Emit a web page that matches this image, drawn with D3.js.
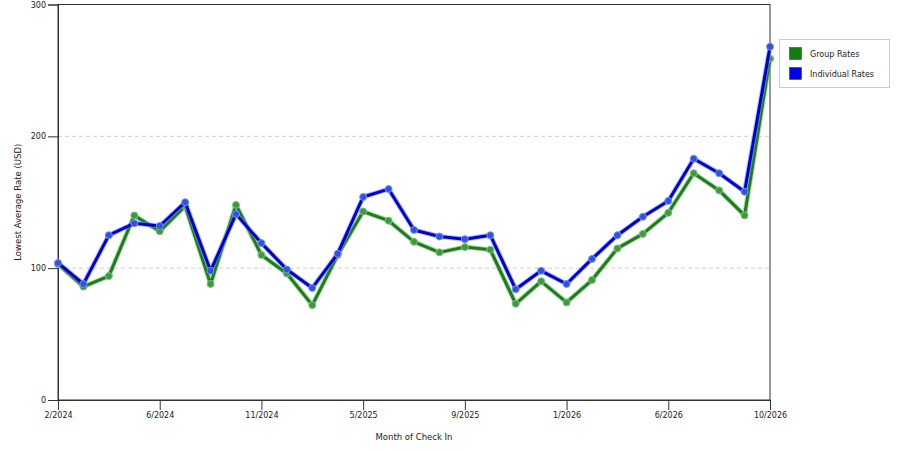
<!DOCTYPE html>
<meta charset="utf-8">
<title>Lowest Average Rate</title>
<body style="margin:0;background:#fff">
<svg width=900 height=450></svg>
<script src="https://d3js.org/d3.v7.min.js"></script>
<script>
    // months shown on the chart (one point each)
    const months = ["2/2024","3/2024","4/2024","5/2024","6/2024","7/2024","8/2024","9/2024",
        "11/2024","12/2024","1/2025","3/2025","5/2025","6/2025","7/2025","8/2025",
        "9/2025","10/2025","11/2025","12/2025","1/2026","2/2026","3/2026","4/2026",
        "6/2026","7/2026","8/2026","9/2026","10/2026"];
    const tickLabels = ["2/2024","6/2024","11/2024","5/2025","9/2025","1/2026","6/2026","10/2026"];

    const groupRates = [103,86,94,140,128,147,88,148,110,96,72,110,143,136,120,112,116,114,73,90,74,91,115,126,142,172,159,140,259];
    const individualRates = [104,88,125,134,132,150,98,141,119,99,85,111,154,160,129,124,122,125,84,98,88,107,125,139,151,183,172,158,268];

    const yTicks = [0,100,200,300];

    const series = [
        {name: "Group Rates", values: groupRates, color: "#1a7f1a", halo: "#7fc07f", dot: "#3f9a3f"},
        {name: "Individual Rates", values: individualRates, color: "#0000cc", halo: "#7f8fef", dot: "#2a55e0"}
    ];

    const svg = d3.select('svg');
    const font = "DejaVu Sans, Verdana, sans-serif";
    const m = {left: 58, right: 130, top: 4.5, bottom: 50};
    const W = 900, H = 450;

    const x = d3.scalePoint().domain(months).range([m.left, W - m.right]);
    const y = d3.scaleLinear().domain([0, 300]).range([H - m.bottom, m.top]);

    // grid
    svg.append("g").selectAll("line")
        .data([100, 200])
        .enter().append("line")
        .attr("x1", m.left).attr("x2", W - m.right)
        .attr("y1", d => y(d)).attr("y2", d => y(d))
        .attr("stroke", "#d0d0d0")
        .attr("stroke-dasharray", "4,3");

    // frame
    svg.append("rect")
        .attr("x", m.left).attr("y", m.top)
        .attr("width", W - m.right - m.left).attr("height", y(0) - m.top)
        .attr("fill", "none").attr("stroke", "#333");

    const xAxis = svg.append("g")
        .attr("transform", `translate(0,${y(0)})`)
        .call(d3.axisBottom(x).tickValues(tickLabels).tickSize(10).tickPadding(2));
    const yAxis = svg.append("g")
        .attr("transform", `translate(${m.left},0)`)
        .call(d3.axisLeft(y).tickValues(yTicks).tickSize(10).tickPadding(2));

    [xAxis, yAxis].forEach(a => {
        a.select(".domain").attr("stroke", "#333");
        a.selectAll(".tick line").attr("stroke", "#333");
        a.selectAll("text").attr("font-family", font).attr("font-size", 8).attr("fill", "#222");
    });

    svg.append("text")
        .attr("x", (m.left + W - m.right) / 2).attr("y", 440)
        .attr("text-anchor", "middle")
        .attr("font-family", font).attr("font-size", 8.5).attr("fill", "#222")
        .text("Month of Check In");

    svg.append("text")
        .attr("transform", `translate(21,${(y(0) + m.top) / 2}) rotate(-90)`)
        .attr("text-anchor", "middle")
        .attr("font-family", font).attr("font-size", 8.5).attr("fill", "#222")
        .text("Lowest Average Rate (USD)");

    const line = d3.line().x((d, i) => x(months[i])).y(d => y(d));

    series.forEach(s => {
        const g = svg.append("g");
        g.append("path").datum(s.values)
            .attr("d", line).attr("fill", "none")
            .attr("stroke", s.halo).attr("stroke-width", 5).attr("opacity", 0.6)
            .attr("stroke-linejoin", "round");
        g.append("path").datum(s.values)
            .attr("d", line).attr("fill", "none")
            .attr("stroke", s.color).attr("stroke-width", 3)
            .attr("stroke-linejoin", "round");
        g.selectAll("circle").data(s.values).enter().append("circle")
            .attr("cx", (d, i) => x(months[i])).attr("cy", d => y(d))
            .attr("r", 3.5)
            .attr("fill", s.dot).attr("stroke", s.halo).attr("stroke-width", 1);
    });

    // legend
    const lg = svg.append("g");
    lg.append("rect")
        .attr("x", 779.5).attr("y", 39.5).attr("width", 110).attr("height", 48)
        .attr("fill", "#fff").attr("stroke", "#ccc");
    series.forEach((s, i) => {
        lg.append("rect")
            .attr("x", 789.5).attr("y", 47.5 + i * 20).attr("width", 12).attr("height", 12)
            .attr("fill", i === 0 ? "#0f7f0f" : "#0000ee").attr("stroke", "#333").attr("stroke-width", 0.5);
        lg.append("text")
            .attr("x", 810).attr("y", 57 + i * 20)
            .attr("font-family", font).attr("font-size", 8).attr("fill", "#222")
            .text(s.name);
    });
</script>
